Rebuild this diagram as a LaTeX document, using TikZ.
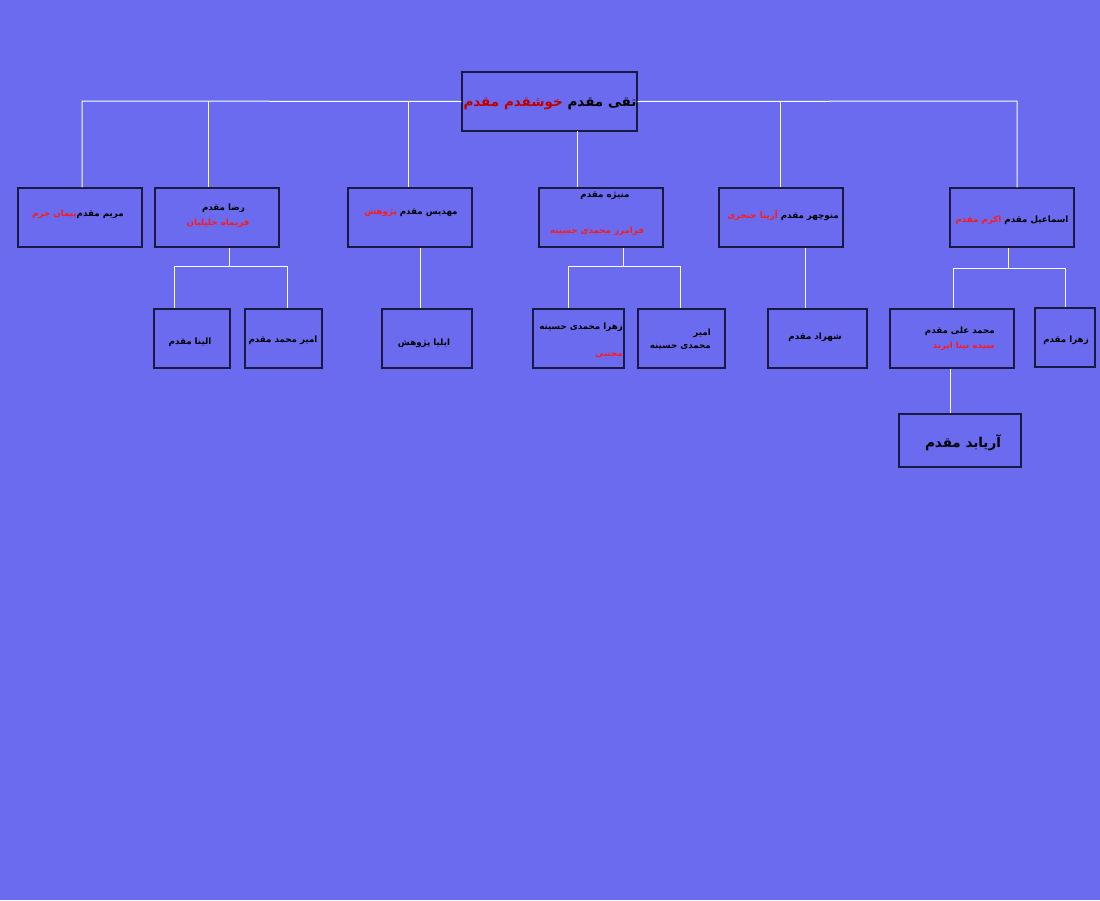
\documentclass[tikz,border=0pt]{standalone}
\usepackage{fontspec}
\TeXXeTstate=1
\newfontfamily\arfont[Script=Arabic]{DejaVu Sans}
\definecolor{bg}{HTML}{6B6BF0}
\definecolor{bd}{HTML}{1A1A40}
\definecolor{dred}{HTML}{C00000}
\definecolor{bred}{HTML}{FF1A1A}
\newcommand\rtltext[1]{\beginR #1\endR}
\newcommand\mkbox[5]{\node[box,minimum width={#4-#2},minimum height={#5-#3}] (#1) at ({(#2+#4)/2},{(#3+#5)/2}) {};}
\begin{document}
\begin{tikzpicture}[x=1pt,y=-1pt,
  box/.style={draw=bd,line width=1.3pt,fill=bg,inner sep=0pt},
  link/.style={draw=white,line width=1pt},
  txt/.style={inner sep=0pt,yshift=-2pt,font=\arfont\bfseries\fontsize{8.7}{10}\selectfont},
  big/.style={inner sep=0pt,yshift=-3pt,font=\arfont\bfseries\fontsize{13.5}{16}\selectfont}]
\fill[bg] (0,0) rectangle (1100,900);
\useasboundingbox (0,0) rectangle (1100,900);

% boxes
\mkbox{root}{462}{72}{637}{131}
\mkbox{n1}{18}{188}{142}{247}
\mkbox{n2}{155}{188}{279}{247}
\mkbox{n3}{348}{188}{472}{247}
\mkbox{n4}{539}{188}{663}{247}
\mkbox{n5}{719}{188}{843}{247}
\mkbox{n6}{950}{188}{1074}{247}
\mkbox{c1}{154}{309}{230}{368}
\mkbox{c2}{245}{309}{322}{368}
\mkbox{c3}{382}{309}{472}{368}
\mkbox{c4}{533}{309}{624}{368}
\mkbox{c5}{638}{309}{725}{368}
\mkbox{c6}{768}{309}{867}{368}
\mkbox{c7}{890}{309}{1014}{368}
\mkbox{c8}{1035}{308}{1095}{367}
\mkbox{g1}{899}{414}{1021}{467}

% connectors
\coordinate (a1) at (82,101);
\coordinate (a2) at (208,101);
\coordinate (a3) at (408,101);
\coordinate (a4) at (577,131);
\coordinate (a5) at (780,101);
\coordinate (a6) at (1017,101);
\draw[link] (root.west) -- (a1) -- (a1 |- n1.north);
\draw[link] (a2) -- (a2 |- n2.north);
\draw[link] (a3) -- (a3 |- n3.north);
\draw[link] (a4) -- (a4 |- n4.north);
\draw[link] (root.east) -- (a6) -- (a6 |- n6.north);
\draw[link] (a5) -- (a5 |- n5.north);

\coordinate (j2) at (229,266);
\coordinate (t1) at (174,266);
\coordinate (t2) at (287,266);
\draw[link] (j2 |- n2.south) -- (j2);
\draw[link] (t1) -- (t2);
\draw[link] (t1) -- (t1 |- c1.north);
\draw[link] (t2) -- (t2 |- c2.north);

\coordinate (j3) at (420,300);
\draw[link] (j3 |- n3.south) -- (j3 |- c3.north);

\coordinate (j4) at (623,266);
\coordinate (t4) at (568,266);
\coordinate (t5) at (680,266);
\draw[link] (j4 |- n4.south) -- (j4);
\draw[link] (t4) -- (t5);
\draw[link] (t4) -- (t4 |- c4.north);
\draw[link] (t5) -- (t5 |- c5.north);

\coordinate (j5) at (805,300);
\draw[link] (j5 |- n5.south) -- (j5 |- c6.north);

\coordinate (j6) at (1008,268);
\coordinate (t7) at (953,268);
\coordinate (t8) at (1065,268);
\draw[link] (j6 |- n6.south) -- (j6);
\draw[link] (t7) -- (t8);
\draw[link] (t7) -- (t7 |- c7.north);
\draw[link] (t8) -- (t8 |- c8.north);

\coordinate (j7) at (950,400);
\draw[link] (j7 |- c7.south) -- (j7 |- g1.north);

% texts
\node[big] (troot) at (550,101) {{\color{dred}\rtltext{خوشقدم مقدم}} \rtltext{تقی مقدم}};
\node[txt] (tn1) at (78,212) {{\color{bred}\rtltext{پیمان خرم}}\rtltext{مریم مقدم}};
\node[txt,anchor=east] (tn2a) at (245,206) {\rtltext{رضا مقدم}};
\node[txt] (tn2b) at (218,221) {\color{bred}\rtltext{فریماه خلیلیان}};
\node[txt] (tn3) at (411,211) {{\color{bred}\rtltext{پژوهش}} \rtltext{مهدیس مقدم}};
\node[txt] (tn4a) at (605,194) {\rtltext{منیژه مقدم}};
\node[txt] (tn4b) at (597,229) {\color{bred}\rtltext{فرامرز محمدی حسینه}};
\node[txt] (tn5) at (783,213) {{\color{bred}\rtltext{آرینا حنجری}} \rtltext{منوچهر مقدم}};
\node[txt] (tn6) at (1012,218) {{\color{bred}\rtltext{اکرم مقدم}} \rtltext{اسماعیل مقدم}};
\node[txt] (tc1) at (190,340) {\rtltext{الینا مقدم}};
\node[txt] (tc2) at (283,338) {\rtltext{امیر محمد مقدم}};
\node[txt] (tc3) at (424,341) {\rtltext{ایلیا پژوهش}};
\node[txt,anchor=east] (tc4a) at (623,325) {\rtltext{زهرا محمدی حسینه}};
\node[txt,anchor=east] (tc4b) at (623,353) {\color{bred}\rtltext{مجتبی}};
\node[txt,anchor=east] (tc5a) at (711,331) {\rtltext{امیر}};
\node[txt,anchor=east] (tc5b) at (711,345) {\rtltext{محمدی حسینه}};
\node[txt] (tc6) at (815,335) {\rtltext{شهراد مقدم}};
\node[txt,anchor=east] (tc7a) at (995,329) {\rtltext{محمد علی مقدم}};
\node[txt,anchor=east] (tc7b) at (995,344) {\color{bred}\rtltext{سیده نینا ابرند}};
\node[txt] (tc8) at (1066,338) {\rtltext{زهرا مقدم}};
\node[big] (tg1) at (963,440) {\rtltext{آریابد مقدم}};
\end{tikzpicture}
\end{document}
